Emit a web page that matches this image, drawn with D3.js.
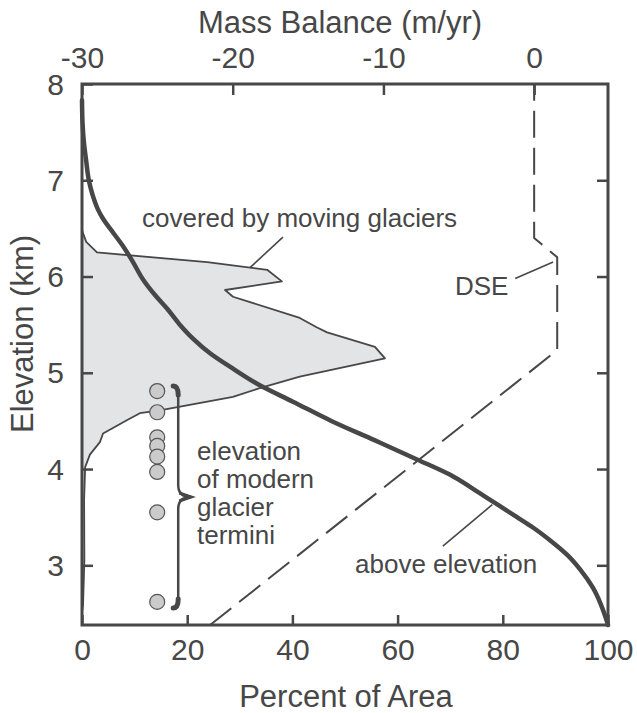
<!DOCTYPE html>
<html>
<head>
<meta charset="utf-8">
<script src="https://cdn.jsdelivr.net/npm/d3@7"></script>
<style>
  html, body { margin: 0; padding: 0; background: #fff; }
  svg text { font-family: "Liberation Sans", Arial, Helvetica, sans-serif; fill: #474747; }
</style>
</head>
<body>
<svg id="chart" width="637" height="713"></svg>
<script>
// ---- data ----
const percentTicks = [0, 20, 40, 60, 80, 100];
const massBalanceTicks = [-30, -20, -10, 0];
const elevationTicks = [3, 4, 5, 6, 7, 8];

// percent of area above elevation: [percent, elevation km]
const aboveElevation = [
  [0, 7.83], [0.1, 7.6], [0.35, 7.4], [0.8, 7.2], [1.3, 7.0], [2.0, 6.85],
  [3.0, 6.7], [4.0, 6.6], [6.0, 6.45], [8.0, 6.3], [9.7, 6.15], [11.6, 5.97],
  [14.0, 5.8], [16.2, 5.665], [18.6, 5.5], [21.1, 5.355], [24.4, 5.2],
  [28.5, 5.05], [33.8, 4.87], [40.1, 4.7], [47.4, 4.5], [55.6, 4.3],
  [63.7, 4.1], [70.0, 3.94], [74.2, 3.8], [77.6, 3.68], [82.7, 3.5],
  [85.8, 3.39], [89.2, 3.25], [92.2, 3.11], [94.8, 2.95], [97.1, 2.77],
  [98.6, 2.6], [99.6, 2.45], [100, 2.38]
];

// area covered by moving glaciers (outline): [percent, elevation km]
const glacierCover = [
  [0, 6.48], [0.8, 6.36], [2.85, 6.25], [23.8, 6.15], [35.2, 6.07], [38.0, 5.95],
  [27.2, 5.86], [28.7, 5.79], [41.4, 5.57], [44.7, 5.47], [46.6, 5.42],
  [55.7, 5.27], [57.6, 5.15], [41.4, 4.96], [33.8, 4.84], [28.7, 4.75],
  [14.8, 4.61], [11.0, 4.58], [8.6, 4.51], [4.0, 4.37], [3.4, 4.28],
  [1.5, 4.15], [0.6, 4.02], [0.4, 3.68], [0.45, 3.06], [0.2, 2.59], [0, 2.51]
];

// DSE mass balance profile: [mass balance m/yr, elevation km]
const dseProfile = [
  [-21.5, 2.38], [1.53, 5.235], [1.53, 6.2], [0, 6.4], [0, 8]
];

// modern glacier termini elevations (km), plotted at a fixed percent
const terminiPercent = 14.3;
const terminiElev = [4.81, 4.59, 4.33, 4.24, 4.13, 3.97, 3.55, 2.62];

// ---- scales ----
const svg = d3.select("#chart");
const L = 82, R = 608, T = 84, B = 625;
const x = d3.scaleLinear().domain([0, 100]).range([L, R]);
const xMB = d3.scaleLinear().domain([-30, 4.9]).range([L, R]);
const y = d3.scaleLinear().domain([2.38, 8]).range([B, T]);

const ink = "#474747";
const plain = d => String(d);

// ---- glacier cover polygon ----
svg.append("path")
  .datum(glacierCover)
  .attr("d", d3.line().x(d => x(d[0])).y(d => y(d[1])))
  .attr("fill", "#e3e4e6")
  .attr("stroke", ink)
  .attr("stroke-width", 1.8)
  .attr("stroke-linejoin", "round");

// ---- DSE dashed profile ----
svg.append("path")
  .datum(dseProfile)
  .attr("d", d3.line().x(d => xMB(d[0])).y(d => y(d[1])))
  .attr("fill", "none")
  .attr("stroke", ink)
  .attr("stroke-width", 2)
  .attr("stroke-dasharray", "27,10");

// ---- above-elevation thick curve ----
svg.append("path")
  .datum(aboveElevation)
  .attr("d", d3.line().curve(d3.curveMonotoneY).x(d => x(d[0])).y(d => y(d[1])))
  .attr("fill", "none")
  .attr("stroke", ink)
  .attr("stroke-width", 4.5)
  .attr("stroke-linecap", "round");

// ---- termini circles ----
svg.append("g").selectAll("circle")
  .data(terminiElev)
  .join("circle")
  .attr("cx", x(terminiPercent))
  .attr("cy", d => y(d))
  .attr("r", 7.5)
  .attr("fill", "#cbcbcb")
  .attr("stroke", "#555")
  .attr("stroke-width", 1.2);

// ---- curly brace ----
{
  const yt = y(d3.max(terminiElev)) - 5;
  const yb = y(d3.min(terminiElev)) + 6;
  const ym = (yt + yb) / 2;
  const xe = x(terminiPercent) + 16, xm = xe + 5, xt = xm + 13;
  const p = `M${xe},${yt} C${xm},${yt} ${xm},${yt + 6} ${xm},${yt + 14}
    L${xm},${ym - 12} C${xm},${ym - 4} ${xm + 5},${ym} ${xt},${ym}
    C${xm + 5},${ym} ${xm},${ym + 4} ${xm},${ym + 12}
    L${xm},${yb - 14} C${xm},${yb - 6} ${xm},${yb} ${xe},${yb}`;
  svg.append("path").attr("d", p).attr("fill", "none")
    .attr("stroke", ink).attr("stroke-width", 2.5);
  svg.append("path").attr("d", `M${xe},${yt} C${xm - 1},${yt} ${xm},${yt + 4} ${xm},${yt + 9}`)
    .attr("fill", "none").attr("stroke", ink).attr("stroke-width", 5).attr("stroke-linecap", "round");
  svg.append("path").attr("d", `M${xe},${yb} C${xm - 1},${yb} ${xm},${yb - 4} ${xm},${yb - 9}`)
    .attr("fill", "none").attr("stroke", ink).attr("stroke-width", 5).attr("stroke-linecap", "round");
  svg.append("path").attr("d", `M${xm + 1},${ym - 4} L${xt},${ym} L${xm + 1},${ym + 4}`)
    .attr("fill", "none").attr("stroke", ink).attr("stroke-width", 3);
}

// ---- axes ----
function styleAxis(g) {
  g.select(".domain").remove();
  g.selectAll(".tick line").attr("stroke", ink).attr("stroke-width", 2.5);
  g.selectAll(".tick text").style("font-size", "30px").attr("fill", ink);
}
svg.append("g").attr("transform", `translate(0,${B})`)
  .call(d3.axisBottom(x).tickValues(percentTicks).tickSize(-10).tickPadding(14).tickSizeOuter(0).tickFormat(plain))
  .call(styleAxis);
svg.append("g").attr("transform", `translate(0,${T})`)
  .call(d3.axisTop(xMB).tickValues(massBalanceTicks).tickSize(-11).tickPadding(16).tickSizeOuter(0).tickFormat(plain))
  .call(styleAxis);
svg.append("g").attr("transform", `translate(${L},0)`)
  .call(d3.axisLeft(y).tickValues(elevationTicks).tickSize(-11).tickPadding(18).tickSizeOuter(0).tickFormat(plain))
  .call(styleAxis)
  .call(g => g.selectAll(".tick text").attr("dy", "0.34em"));
svg.append("g").attr("transform", `translate(${R},0)`)
  .call(d3.axisRight(y).tickValues(elevationTicks.filter(v => v < 8)).tickSize(-11).tickFormat("").tickSizeOuter(0))
  .call(styleAxis);

// frame
svg.append("rect")
  .attr("x", L).attr("y", T).attr("width", R - L).attr("height", B - T)
  .attr("fill", "none").attr("stroke", ink).attr("stroke-width", 3);

// axis titles
svg.append("text").attr("x", 340).attr("y", 33).attr("text-anchor", "middle")
  .style("font-size", "31px").text("Mass Balance (m/yr)");
svg.append("text").attr("x", 346).attr("y", 707).attr("text-anchor", "middle")
  .style("font-size", "31px").text("Percent of Area");
svg.append("text").attr("transform", "translate(33,334) rotate(-90)").attr("text-anchor", "middle")
  .style("font-size", "31px").text("Elevation (km)");

// ---- annotations ----
const ann = svg.append("g");
function leader(x1, y1, x2, y2) {
  ann.append("line").attr("x1", x1).attr("y1", y1).attr("x2", x2).attr("y2", y2)
    .attr("stroke", ink).attr("stroke-width", 1.6);
}
function label(tx, ty, s) {
  ann.append("text").attr("x", tx).attr("y", ty).style("font-size", "26px").text(s);
}
leader(x(38.2), y(6.41), x(31.9), y(6.09));
label(142, 227, "covered by moving glaciers");
leader(xMB(-1.26), y(5.98), xMB(1.26), y(6.15));
label(455, 295, "DSE");
leader(x(68.6), y(3.2), x(78.0), y(3.63));
label(355, 573, "above elevation");
["elevation", "of modern", "glacier", "termini"].forEach((s, i) => label(197, 460 + i * 28, s));
</script>
</body>
</html>
